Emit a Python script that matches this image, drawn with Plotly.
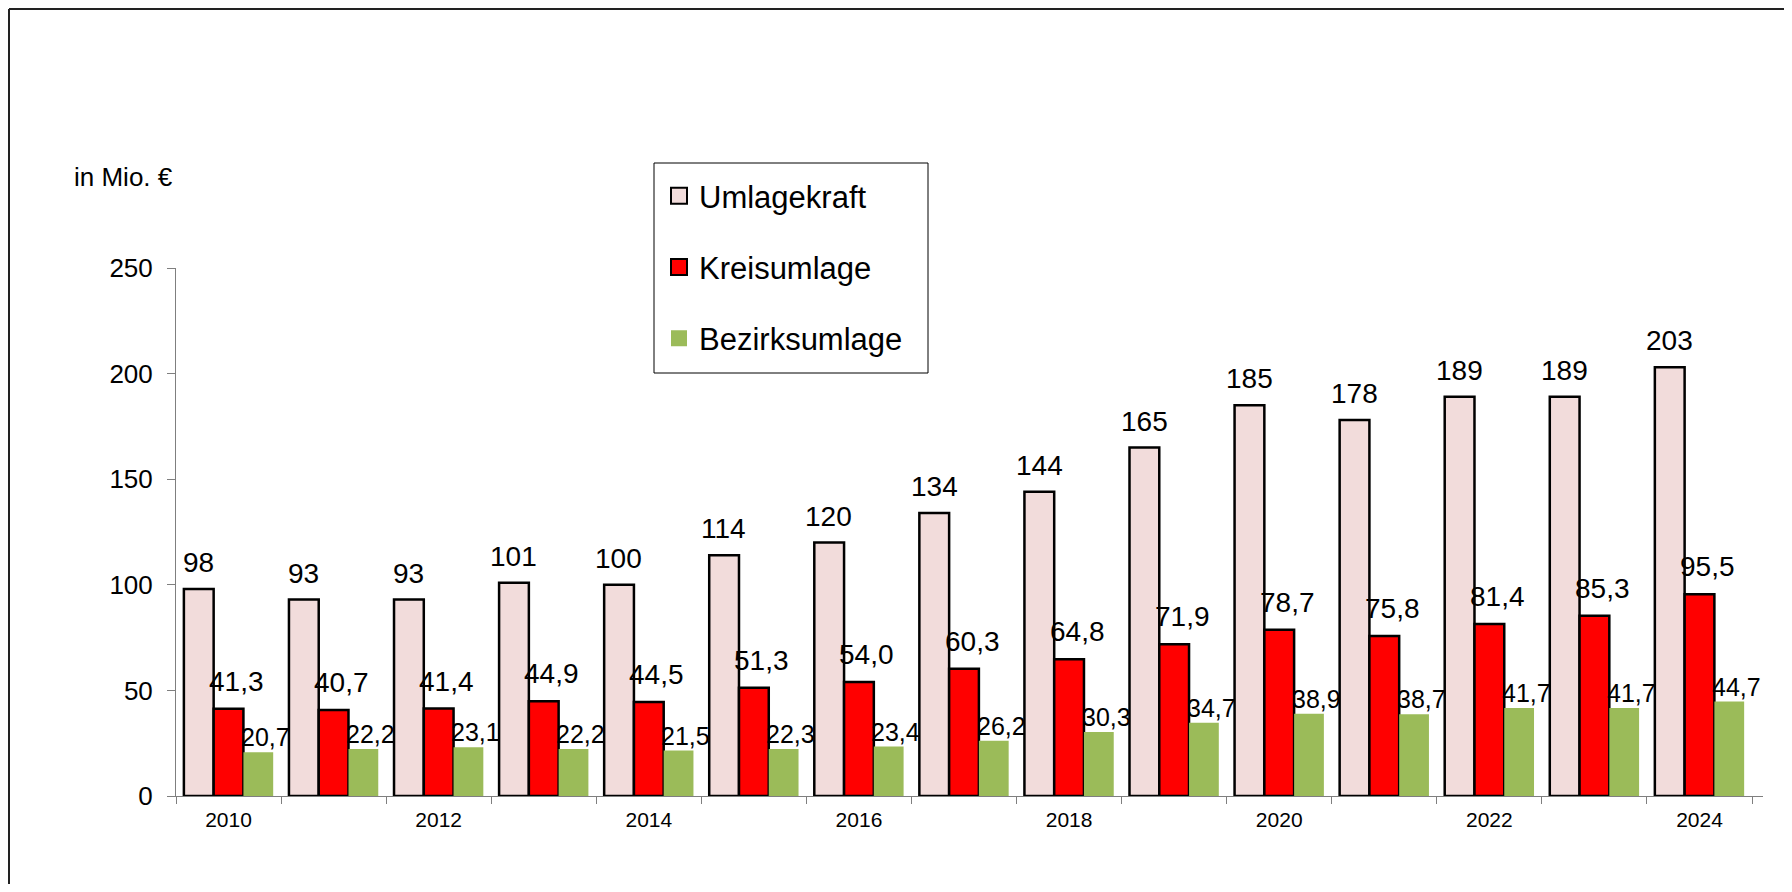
import plotly.graph_objects as go

# Daten
jahre = [str(j) for j in range(2010, 2025)]
umlagekraft = [98, 93, 93, 101, 100, 114, 120, 134, 144, 165, 185, 178, 189, 189, 203]
kreisumlage = [41.3, 40.7, 41.4, 44.9, 44.5, 51.3, 54.0, 60.3, 64.8, 71.9, 78.7, 75.8, 81.4, 85.3, 95.5]
bezirksumlage = [20.7, 22.2, 23.1, 22.2, 21.5, 22.3, 23.4, 26.2, 30.3, 34.7, 38.9, 38.7, 41.7, 41.7, 44.7]
tick_text = [j if int(j) % 2 == 0 else "" for j in jahre]

# Seitenrand des Browsers (body margin) = 8 px
OFF = 8
W, H = 1792 - 2 * OFF, 892 - 2 * OFF
L, T = 176 - OFF, 268 - OFF
R = W - (1763 - OFF)
B = H - (796 - OFF)
pw, ph = W - L - R, H - T - B


def px_x(p):
    # Seitenpixel -> paper-Koordinate
    return (p - OFF - L) / pw


def px_y(p):
    return (H + OFF - B - p) / ph


def de(v, dez):
    return f"{v:.{dez}f}".replace(".", ",")


fig = go.Figure()
serien = [
    ("Umlagekraft", umlagekraft, "#F2DCDB", 2.5),
    ("Kreisumlage", kreisumlage, "#FF0000", 2.5),
    ("Bezirksumlage", bezirksumlage, "#9BBB59", 0),
]
for name, werte, farbe, lw in serien:
    fig.add_trace(go.Bar(
        x=jahre, y=werte, name=name, showlegend=False,
        marker=dict(color=farbe, line=dict(color="black", width=lw)),
    ))
# Legendeneinträge mit größeren Quadraten
for name, werte, farbe, lw in serien:
    fig.add_trace(go.Scatter(
        x=[None], y=[None], mode="markers", name=name, legendgroup=name,
        marker=dict(symbol="square", size=16, color=farbe,
                    line=dict(color="black", width=min(lw, 2))),
    ))

# Beschriftungen (x als Kategorie-Index)
ann = []
for i, v in enumerate(umlagekraft):
    ann.append(dict(x=i, y=v, text=de(v, 0), xshift=-30, yshift=9, showarrow=False,
                    yanchor="bottom", font=dict(size=28)))
for i, v in enumerate(kreisumlage):
    ann.append(dict(x=i, y=v, text=de(v, 1), xshift=8, yshift=10, showarrow=False,
                    yanchor="bottom", font=dict(size=28)))
for i, v in enumerate(bezirksumlage):
    ann.append(dict(x=i, y=v, text=de(v, 1), xshift=37, yshift=-1, showarrow=False,
                    yanchor="bottom", font=dict(size=25)))
ann.append(dict(xref="paper", yref="paper", x=px_x(72), y=px_y(177), text="in Mio. €",
                showarrow=False, xanchor="left", yanchor="middle", font=dict(size=26)))

shapes = [
    # Rahmen (oben und links)
    dict(type="line", xref="paper", yref="paper", x0=px_x(OFF + 1), x1=px_x(1800),
         y0=px_y(OFF + 1), y1=px_y(OFF + 1), line=dict(color="#222", width=2)),
    dict(type="line", xref="paper", yref="paper", x0=px_x(OFF + 1), x1=px_x(OFF + 1),
         y0=px_y(OFF + 1), y1=px_y(900), line=dict(color="#222", width=2)),
    # Legendenrahmen
    dict(type="rect", xref="paper", yref="paper", x0=px_x(654), x1=px_x(928), y0=px_y(373), y1=px_y(163),
         line=dict(color="black", width=1)),
]

fig.update_layout(
    width=W, height=H,
    margin=dict(l=L, r=R, t=T, b=B),
    paper_bgcolor="white", plot_bgcolor="white",
    font=dict(family="Liberation Sans, Arial", color="black"),
    barmode="group", bargap=0.15, bargroupgap=0,
    annotations=ann, shapes=shapes,
    legend=dict(x=px_x(659), y=px_y(169), xanchor="left", yanchor="top",
                font=dict(size=31), tracegroupgap=28, bgcolor="rgba(0,0,0,0)",
                itemwidth=30),
)
fig.update_xaxes(
    type="category", tickmode="array", tickvals=jahre, ticktext=tick_text,
    tickson="boundaries", ticks="outside", ticklen=7, tickcolor="#7f7f7f",
    showline=True, linecolor="#7f7f7f", linewidth=1, showgrid=False,
    tickfont=dict(size=21), ticklabelstandoff=5, fixedrange=True,
)
fig.update_yaxes(
    range=[0, 250], dtick=50, ticks="outside", ticklen=8, tickcolor="#7f7f7f",
    showline=True, linecolor="#7f7f7f", linewidth=1, showgrid=False, zeroline=False,
    tickfont=dict(size=26), ticklabelstandoff=9,
)

fig.write_html("out.html")
